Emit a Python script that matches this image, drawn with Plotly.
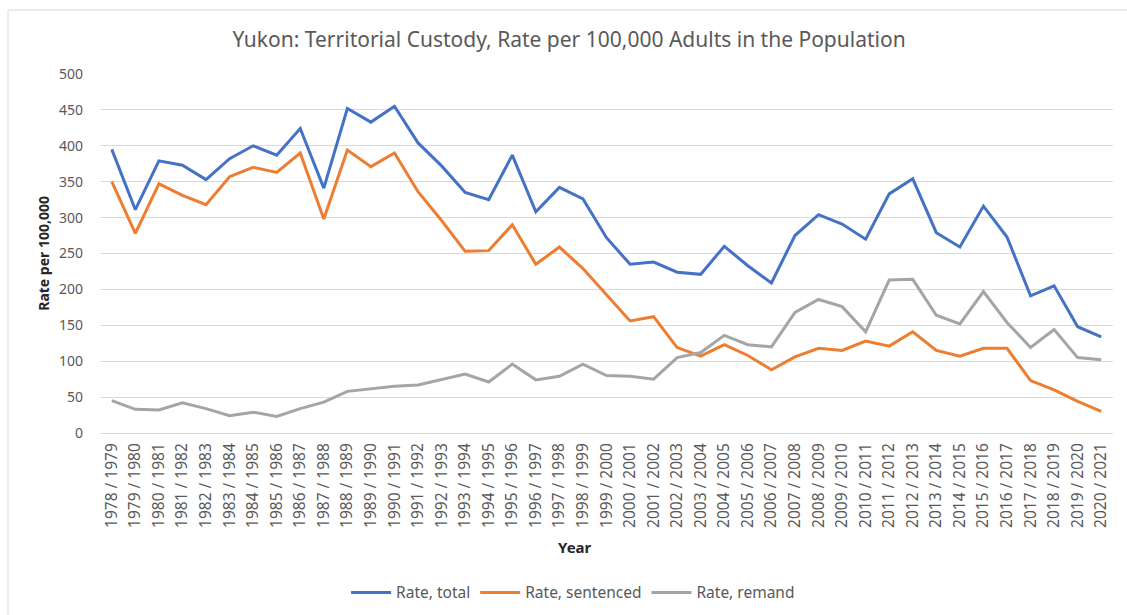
import plotly.graph_objects as go

years = [f"{y} / {y + 1}" for y in range(1978, 2021)]

rate_total = [395, 311, 379, 373, 353, 382, 400, 387, 424, 341, 452, 433, 455, 404, 372, 335, 325, 387,
              308, 342, 326, 272, 235, 238, 224, 221, 260, 233, 209, 275, 304, 291, 270, 333, 354, 279,
              259, 316, 273, 191, 205, 148, 134]
rate_sentenced = [350, 278, 347, 331, 318, 357, 370, 363, 390, 298, 394, 371, 390, 336, 296, 253, 254, 290,
                  235, 259, 229, 193, 156, 162, 119, 107, 123, 108, 88, 106, 118, 115, 128, 121, 141, 115,
                  107, 118, 118, 73, 60, 44, 30]
rate_remand = [45, 33, 32, 42, 34, 24, 29, 23, 34, 43, 58, 62, 65, 67, 74, 82, 71, 96,
               74, 79, 96, 80, 79, 75, 105, 112, 136, 123, 120, 168, 186, 176, 141, 213, 214, 164,
               152, 197, 154, 119, 144, 105, 102]

font = "Noto Sans, sans-serif"
grey = "#595959"

fig = go.Figure()
fig.add_trace(go.Scatter(x=years, y=rate_total, name="Rate, total", mode="lines",
                         line=dict(color="#4472C4", width=3)))
fig.add_trace(go.Scatter(x=years, y=rate_sentenced, name="Rate, sentenced", mode="lines",
                         line=dict(color="#ED7D31", width=3)))
fig.add_trace(go.Scatter(x=years, y=rate_remand, name="Rate, remand", mode="lines",
                         line=dict(color="#A5A5A5", width=3)))

fig.update_layout(
    width=1127, height=615,
    margin=dict(l=100, r=14, t=74, b=182, autoexpand=False),
    paper_bgcolor="white", plot_bgcolor="white",
    font=dict(family=font, color=grey, size=13),
    title=dict(text="Yukon: Territorial Custody, Rate per 100,000 Adults in the Population",
               x=0.505, xanchor="center", y=0.935, yanchor="middle",
               font=dict(size=21, color=grey)),
    showlegend=True,
    legend=dict(orientation="h", x=0.467, xanchor="center", yref="container", y=0.036, yanchor="middle",
                font=dict(size=15.5, color=grey), itemwidth=40, tracegroupgap=0),
    xaxis=dict(type="category", range=[-0.5, 42.5], tickangle=-90, showgrid=False, automargin=False,
               showline=True, linecolor="#D9D9D9", linewidth=1, ticks="", ticklabelstandoff=3,
               tickfont=dict(size=15.5, color=grey)),
    yaxis=dict(range=[0, 500], dtick=50, showgrid=True, gridcolor="#D9D9D9", gridwidth=1, automargin=False,
               zeroline=False, showline=False, ticks="", ticklabelstandoff=16,
               tickfont=dict(size=14, color=grey)),
    annotations=[
        dict(text="<b>Year</b>", xref="paper", yref="paper", x=0.469, y=-0.318,
             xanchor="center", yanchor="middle",
             showarrow=False, font=dict(size=15, color="#262626")),
        dict(text="<b>Rate per 100,000</b>", xref="paper", yref="paper", x=-0.056, y=0.5,
             xanchor="center", yanchor="middle",
             textangle=-90, showarrow=False, font=dict(size=14, color="#262626")),
    ],
    shapes=[
        dict(type="rect", xref="paper", yref="paper", x0=-0.0908, x1=1.1, y0=-0.7, y1=1.178,
             line=dict(color="#D9D9D9", width=1), layer="below"),
    ],
)

fig.write_html("out.html", config={"displayModeBar": False},
               post_script="document.body.style.margin='0';document.body.style.overflow='hidden';")
